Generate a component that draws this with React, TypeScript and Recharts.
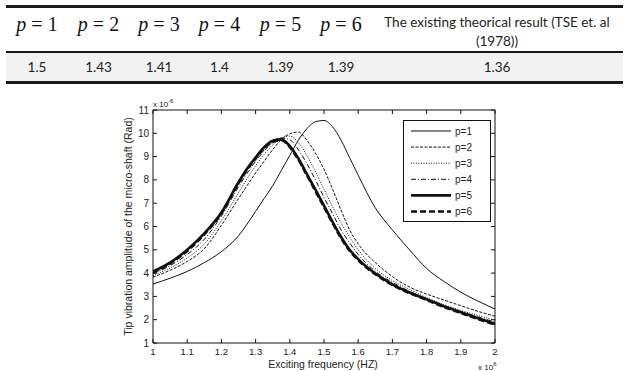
import { LineChart, Line, XAxis, YAxis, ReferenceLine, Legend } from "recharts";

// header row of the comparison table
const TABLE_P = [1, 2, 3, 4, 5, 6];
const TABLE_VALUES = ["1.5", "1.43", "1.41", "1.4", "1.39", "1.39"];
const TSE_VALUE = "1.36";

// frequency grid (x 10^6 Hz)
const frequency = [
  1.0, 1.05, 1.1, 1.15, 1.2, 1.25, 1.275, 1.3, 1.325, 1.35, 1.375, 1.4, 1.425, 1.45,
  1.475, 1.5, 1.525, 1.55, 1.575, 1.6, 1.65, 1.7, 1.75, 1.8, 1.85, 1.9, 1.95, 2.0,
];

// tip amplitude (x 10^-6 rad) for each p
const p1 = [
  3.53, 3.78, 4.07, 4.45, 4.92, 5.6, 6.1, 6.65, 7.2, 7.75, 8.4, 9.05, 9.7, 10.2,
  10.5, 10.55, 10.28, 9.7, 8.95, 8.2, 6.8, 5.85, 5.0, 4.2, 3.65, 3.18, 2.8, 2.46,
];
const p2 = [
  3.83, 4.12, 4.5, 5.05, 6.05, 7.2, 7.75, 8.3, 8.8, 9.3, 9.72, 9.98, 10.05, 9.7,
  9.15, 8.45, 7.6, 6.7, 5.85, 5.25, 4.45, 3.85, 3.4, 3.1, 2.85, 2.6, 2.36, 2.15,
];
const p3 = [
  3.9, 4.22, 4.65, 5.25, 6.25, 7.45, 8.05, 8.6, 9.1, 9.5, 9.8, 9.88, 9.6, 9.05,
  8.35, 7.6, 6.85, 6.15, 5.55, 5.0, 4.2, 3.68, 3.3, 2.95, 2.65, 2.4, 2.18, 1.98,
];
const p4 = [
  3.97, 4.32, 4.8, 5.45, 6.45, 7.7, 8.28, 8.8, 9.25, 9.6, 9.8, 9.72, 9.3, 8.7,
  8.0, 7.25, 6.55, 5.85, 5.3, 4.8, 4.08, 3.6, 3.22, 2.9, 2.6, 2.35, 2.12, 1.9,
];
const p5 = [
  4.07, 4.45, 5.0, 5.7, 6.6, 7.9, 8.48, 8.96, 9.4, 9.68, 9.74, 9.45, 8.92, 8.25,
  7.58, 6.9, 6.2, 5.55, 5.0, 4.6, 3.98, 3.52, 3.17, 2.88, 2.58, 2.32, 2.06, 1.82,
];
const p6 = [
  4.03, 4.41, 4.95, 5.66, 6.57, 7.86, 8.44, 8.92, 9.36, 9.64, 9.7, 9.41, 8.87, 8.2,
  7.52, 6.84, 6.15, 5.5, 4.96, 4.56, 3.95, 3.49, 3.14, 2.85, 2.55, 2.29, 2.03, 1.79,
];

const X_TICKS = [1, 1.1, 1.2, 1.3, 1.4, 1.5, 1.6, 1.7, 1.8, 1.9, 2];
const Y_TICKS = [1, 2, 3, 4, 5, 6, 7, 8, 9, 10, 11];

const SERIES = [
  { key: "p1", name: "p=1", values: p1, width: 1, dash: undefined },
  { key: "p2", name: "p=2", values: p2, width: 1, dash: "3 1.5" },
  { key: "p3", name: "p=3", values: p3, width: 1, dash: "1 1.5" },
  { key: "p4", name: "p=4", values: p4, width: 1, dash: "5 2 1 2" },
  { key: "p5", name: "p=5", values: p5, width: 2.6, dash: undefined },
  { key: "p6", name: "p=6", values: p6, width: 2.6, dash: "6 3" },
];

const data = frequency.map((f, i) => {
  const row: Record<string, number> = { f };
  SERIES.forEach((s) => (row[s.key] = s.values[i]));
  return row;
});

const PLOT = { left: 153, right: 495, top: 110, bottom: 343 };
const AXIS_FONT = "'Liberation Sans', Arial, sans-serif";
const INK = "#111";

function XTick(props: any) {
  const { x, payload } = props;
  return (
    <g>
      <line x1={x} x2={x} y1={PLOT.bottom} y2={PLOT.bottom - 4} stroke={INK} />
      <line x1={x} x2={x} y1={PLOT.top} y2={PLOT.top + 4} stroke={INK} />
      <text x={x} y={PLOT.bottom + 12} textAnchor="middle" fontSize={9.5} fontFamily={AXIS_FONT} fill="#222">
        {payload.value}
      </text>
    </g>
  );
}

function YTick(props: any) {
  const { y, payload } = props;
  return (
    <g>
      <line x1={PLOT.left} x2={PLOT.left + 4} y1={y} y2={y} stroke={INK} />
      <line x1={PLOT.right} x2={PLOT.right - 4} y1={y} y2={y} stroke={INK} />
      <text x={PLOT.left - 4} y={y + 3.5} textAnchor="end" fontSize={10} fontFamily={AXIS_FONT} fill="#222">
        {payload.value}
      </text>
    </g>
  );
}

function AxisTitles() {
  const midY = (PLOT.top + PLOT.bottom) / 2;
  return (
    <g fontFamily={AXIS_FONT} fill="#222">
      <text x={128} y={midY} transform={`rotate(-90 128 ${midY})`} textAnchor="middle" dominantBaseline="central" fontSize={10.5}>
        Tip vibration amplitude of the micro-shaft (Rad)
      </text>
      <text x={323} y={367.5} textAnchor="middle" fontSize={10.5}>
        Exciting frequency (HZ)
      </text>
      <text x={153} y={107} fontSize={8}>
        x 10<tspan dy={-4} fontSize={6}>-6</tspan>
      </text>
      <text x={478} y={369.5} fontSize={8}>
        x 10<tspan dy={-4} fontSize={6}>6</tspan>
      </text>
    </g>
  );
}

function LegendBox() {
  return (
    <svg width={88} height={102}>
      <rect x={0.5} y={0.5} width={87} height={101} fill="#fff" stroke={INK} />
      {SERIES.map((s, i) => {
        const y = 11 + i * 16.1;
        return (
          <g key={s.key}>
            <line x1={8} x2={48} y1={y} y2={y} stroke={INK} strokeWidth={s.width} strokeDasharray={s.dash} />
            <text x={52} y={y + 3.5} fontSize={10} fontFamily={AXIS_FONT} fill="#222">
              {s.name}
            </text>
          </g>
        );
      })}
    </svg>
  );
}

const cellBase: React.CSSProperties = { padding: 0, textAlign: "center" };
const SANS = "Lato, sans-serif";

function ResultTable() {
  return (
    <table
      style={{
        position: "absolute",
        left: 6,
        top: 5,
        width: 617,
        borderCollapse: "collapse",
        tableLayout: "fixed",
        borderTop: "3px solid #1a1a1a",
        borderBottom: "3px solid #1a1a1a",
      }}
    >
      <colgroup>
        {[62, 61, 60, 61, 61, 60, 252].map((w, i) => (
          <col key={i} style={{ width: w }} />
        ))}
      </colgroup>
      <tbody>
        <tr style={{ height: 44, borderBottom: "2px solid #1a1a1a" }}>
          {TABLE_P.map((p) => (
            <td key={p} style={{ ...cellBase, verticalAlign: "top", paddingTop: 5, fontFamily: "'Liberation Serif', serif", fontSize: 20, lineHeight: "22px", color: "#111" }}>
              <i>p</i> = {p}
            </td>
          ))}
          <td style={{ ...cellBase, verticalAlign: "top", paddingTop: 5, fontFamily: SANS, fontSize: 13.5, lineHeight: "19px", color: "#222" }}>
            The existing theorical result (TSE et. al
            <br />
            (1978))
          </td>
        </tr>
        <tr style={{ height: 30, background: "#f2f2f2" }}>
          {TABLE_VALUES.map((v, i) => (
            <td key={i} style={{ ...cellBase, fontFamily: SANS, fontSize: 13.5, color: "#222" }}>
              {v}
            </td>
          ))}
          <td style={{ ...cellBase, fontFamily: SANS, fontSize: 13.5, color: "#222" }}>{TSE_VALUE}</td>
        </tr>
      </tbody>
    </table>
  );
}

export default function App() {
  return (
    <div style={{ position: "fixed", left: 0, top: 0, width: 629, height: 371, background: "#fff", overflow: "hidden" }}>
      <ResultTable />
      <div style={{ position: "absolute", left: 0, top: 0 }}>
        <LineChart width={629} height={371} data={data} margin={{ top: 110, right: 134, bottom: 0, left: 93 }}>
          <XAxis
            dataKey="f"
            type="number"
            domain={[1, 2]}
            ticks={X_TICKS}
            tickLine={false}
            tick={<XTick />}
            height={28}
            axisLine={{ stroke: INK }}
            allowDataOverflow
            interval={0}
          />
          <YAxis
            domain={[1, 11]}
            ticks={Y_TICKS}
            tickLine={false}
            tick={<YTick />}
            width={60}
            axisLine={{ stroke: INK }}
            allowDataOverflow
            interval={0}
            label={{ content: () => <AxisTitles /> }}
          />
          <ReferenceLine y={11} stroke={INK} />
          <ReferenceLine x={2} stroke={INK} />
          {SERIES.map((s) => (
            <Line
              key={s.key}
              dataKey={s.key}
              name={s.name}
              type="monotone"
              stroke={INK}
              strokeWidth={s.width}
              strokeDasharray={s.dash}
              dot={false}
              isAnimationActive={false}
            />
          ))}
          <Legend
            layout="vertical"
            align="center"
            verticalAlign="middle"
            content={() => <LegendBox />}
            wrapperStyle={{ left: 403, top: 120, width: 88, height: 102 }}
          />
        </LineChart>
      </div>
    </div>
  );
}
